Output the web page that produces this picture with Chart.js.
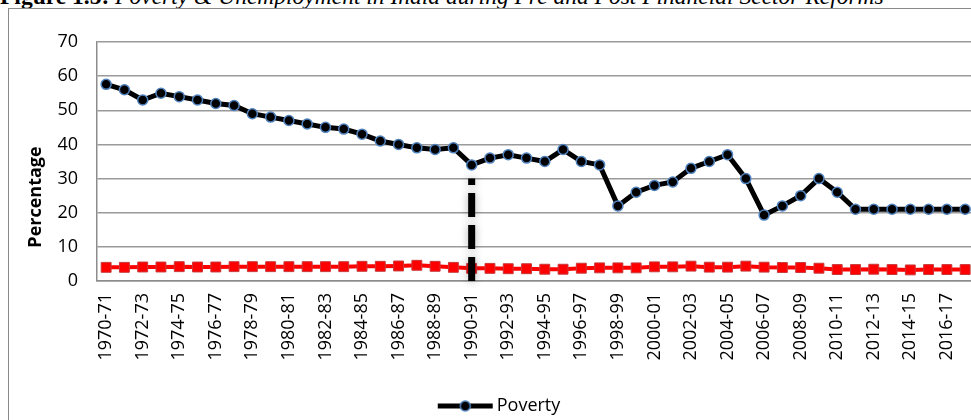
<!DOCTYPE html>
<html>
<head>
<meta charset="utf-8">
<title>Poverty & Unemployment in India</title>
<script src="https://cdn.jsdelivr.net/npm/chart.js@4.4.1/dist/chart.umd.min.js"></script>
<style>
  html, body { margin: 0; padding: 0; width: 971px; height: 420px; overflow: hidden; background: #fff; }
  #figTitle { position: absolute; left: 0; top: -15px; font-family: "Liberation Serif", "Times New Roman", serif; font-size: 23.5px; line-height: 23.5px; white-space: nowrap; color: #000; }
  #frame { position: absolute; left: 8px; top: 8px; width: 1100px; height: 500px; border: 1px solid #8a8a8a; }
  #PlotCanvas { position: absolute; left: 9px; top: 9px; }
</style>
</head>
<body>
<div id="figTitle"><b>Figure 1.5:</b> <i>Poverty &amp; Unemployment in India during Pre and Post Financial Sector Reforms</i></div>
<div id="frame"></div>
<canvas id="PlotCanvas" width="990" height="430"></canvas>
<script>
var years = ['1970-71', '1971-72', '1972-73', '1973-74', '1974-75', '1975-76', '1976-77', '1977-78',
    '1978-79', '1979-80', '1980-81', '1981-82', '1982-83', '1983-84', '1984-85', '1985-86',
    '1986-87', '1987-88', '1988-89', '1989-90', '1990-91', '1991-92', '1992-93', '1993-94',
    '1994-95', '1995-96', '1996-97', '1997-98', '1998-99', '1999-00', '2000-01', '2001-02',
    '2002-03', '2003-04', '2004-05', '2005-06', '2006-07', '2007-08', '2008-09', '2009-10',
    '2010-11', '2011-12', '2012-13', '2013-14', '2014-15', '2015-16', '2016-17', '2017-18'];

var poverty = [57.6, 56, 53, 55, 54, 53, 52, 51.4, 49, 48,
    47, 46, 45, 44.5, 43, 41, 40, 39, 38.5, 39,
    34, 36, 37, 36, 35, 38.5, 35, 34, 22, 26,
    28, 29, 33, 35, 37, 30, 19.3, 22, 25, 30,
    26, 21, 21, 21, 21, 21, 21, 21];

var unemployment = [4.0, 4.0, 4.1, 4.1, 4.2, 4.1, 4.1, 4.2, 4.2, 4.2,
    4.2, 4.2, 4.2, 4.2, 4.3, 4.3, 4.4, 4.6, 4.3, 4.0,
    3.7, 3.7, 3.6, 3.6, 3.45, 3.45, 3.75, 3.85, 3.85, 3.85,
    4.15, 4.15, 4.35, 4.05, 4.05, 4.35, 4.05, 3.95, 3.95, 3.75,
    3.35, 3.35, 3.45, 3.35, 3.25, 3.35, 3.35, 3.35];

// reform marker: dashed line at 1990-91 from 0 up to 30
var reformYear = '1990-91';
var reformRange = [0, 30];

var yTicks = [0, 10, 20, 30, 40, 50, 60, 70];

var fontFamily = '"Open Sans", "Liberation Sans", sans-serif';

// legend marker (line with a circle), drawn once to an offscreen canvas
var legendMarker = document.createElement('canvas');
legendMarker.width = 80;
legendMarker.height = 14;
(function () {
    var c = legendMarker.getContext('2d');
    c.strokeStyle = '#000';
    c.lineWidth = 5;
    c.beginPath();
    c.moveTo(22, 7);
    c.lineTo(77, 7);
    c.stroke();
    c.beginPath();
    c.arc(49.5, 7, 5, 0, Math.PI * 2);
    c.fillStyle = '#000';
    c.fill();
    c.lineWidth = 1.5;
    c.strokeStyle = '#4F81BD';
    c.stroke();
})();

var yTitlePlugin = {
    id: 'yTitle',
    afterDraw: function (chart) {
        var ctx = chart.ctx;
        ctx.save();
        ctx.translate(27, 188);
        ctx.rotate(-Math.PI / 2);
        ctx.font = 'bold 18px ' + fontFamily;
        ctx.fillStyle = '#000';
        ctx.textAlign = 'center';
        ctx.textBaseline = 'middle';
        ctx.fillText('Percentage', 0, 0);
        ctx.restore();
    }
};

var shadowPlugin = {
    id: 'reformShadow',
    beforeDatasetDraw: function (chart, args) {
        if (args.index === 0) {
            chart.ctx.save();
            chart.ctx.shadowColor = 'rgba(0,0,0,0.3)';
            chart.ctx.shadowBlur = 8;
        }
    },
    afterDatasetDraw: function (chart, args) {
        if (args.index === 0) {
            chart.ctx.restore();
        }
    }
};

var ctx = document.getElementById('PlotCanvas').getContext('2d');
var data = {
    labels: years,
    datasets: [{
        label: 'Reform',
        data: reformRange.map(v => ({ x: reformYear, y: v })),
        borderColor: '#000',
        borderWidth: 7,
        borderDash: [24, 8],
        pointRadius: 0,
        clip: false
    }, {
        label: 'Poverty',
        data: poverty,
        borderColor: '#000',
        borderWidth: 5,
        pointRadius: 5,
        pointBackgroundColor: '#000',
        pointBorderColor: '#4F81BD',
        pointBorderWidth: 1.5
    }, {
        label: 'Unemployment',
        data: unemployment,
        borderColor: '#FF0000',
        borderWidth: 4,
        pointStyle: 'rect',
        pointRadius: 7,
        pointBackgroundColor: '#FF0000',
        pointBorderColor: '#C8383A',
        pointBorderWidth: 1
    }]
};

var options = {
    responsive: false,
    animation: false,
    devicePixelRatio: 1,
    layout: { padding: { left: 0, right: 24, top: 33, bottom: 14 } },
    scales: {
        x: {
            type: 'category',
            offset: true,
            grid: { display: false, drawTicks: false },
            border: { display: true, color: '#8c8c8c', width: 1.5 },
            ticks: {
                autoSkip: false,
                minRotation: 90,
                maxRotation: 90,
                padding: 12,
                color: '#000',
                font: { family: fontFamily, size: 18 },
                callback: function (value, index) {
                    return index % 2 === 0 ? this.getLabelForValue(value) : '';
                }
            },
            afterFit: function (scale) { scale.height = 106; }
        },
        y: {
            type: 'linear',
            position: 'left',
            min: 0,
            max: 70,
            afterBuildTicks: function (scale) {
                scale.ticks = yTicks.map(v => ({ value: v }));
            },
            grid: { color: '#9a9a9a', lineWidth: 1.5, drawTicks: false },
            border: { display: true, color: '#8c8c8c', width: 1.5 },
            ticks: {
                padding: 19,
                color: '#000',
                font: { family: fontFamily, size: 18 }
            },
            afterFit: function (scale) { scale.width = 88; }
        }
    },
    plugins: {
        tooltip: { enabled: false },
        legend: {
            position: 'bottom',
            labels: {
                usePointStyle: true,
                pointStyleWidth: 64,
                color: '#000',
                font: { family: fontFamily, size: 18 },
                generateLabels: function (chart) {
                    return [{
                        text: 'Poverty',
                        pointStyle: legendMarker,
                        datasetIndex: 1,
                        fontColor: '#000',
                        fillStyle: 'transparent',
                        strokeStyle: 'transparent',
                        lineWidth: 0,
                        hidden: false
                    }];
                }
            }
        }
    }
};

var currentChart = new Chart(ctx, {
    type: 'line',
    data: data,
    options: options,
    plugins: [yTitlePlugin, shadowPlugin]
});
</script>
</body>
</html>
